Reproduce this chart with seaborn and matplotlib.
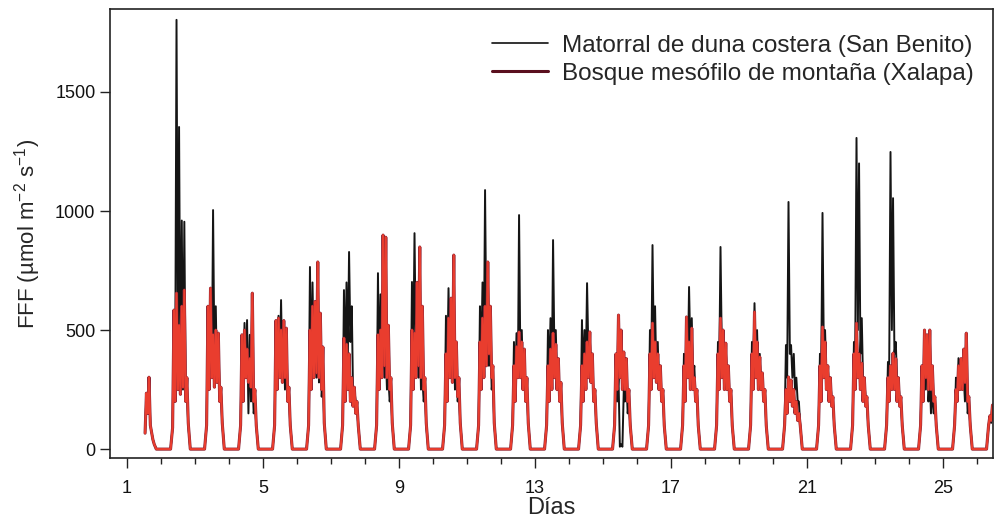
import numpy as np
import pandas as pd
import matplotlib
matplotlib.use('Agg')
import matplotlib.pyplot as plt
import matplotlib.patheffects as pe
import seaborn as sns
from matplotlib.lines import Line2D
from matplotlib.ticker import MultipleLocator

nan = np.nan

# day number of each daylight period (data starts mid day 1)
days = list(range(1, 27))
noon = 0.57
# sampling times inside each day, relative to solar noon (first/last are night zeros)
sample_offsets = [-0.29, -0.23, -0.19, -0.155, -0.115, -0.075, -0.04, 0.0,
                  0.04, 0.075, 0.115, 0.155, 0.19, 0.23, 0.29]

# FFF readings (umol m-2 s-1) during daylight, San Benito
black_vals = [
    [nan, nan, nan, nan, nan, 67, 230, 150, 290, 100, 67, 40, 20],
    [90, 560, 250, 1803, 400, 1353, 300, 960, 250, 955, 200, 250, 100],
    [100, 560, 280, 640, 330, 1004, 374, 600, 300, 480, 200, 250, 110],
    [100, 470, 220, 530, 300, 542, 150, 480, 200, 300, 150, 200, 100],
    [100, 500, 250, 560, 350, 626, 300, 500, 250, 480, 200, 250, 100],
    [100, 765, 300, 700, 350, 560, 300, 740, 280, 500, 220, 300, 110],
    [100, 668, 300, 700, 400, 828, 450, 600, 256, 250, 200, 180, 100],
    [100, 739, 300, 650, 350, 500, 300, 400, 250, 300, 200, 250, 110],
    [100, 702, 350, 907, 400, 650, 300, 500, 250, 300, 200, 250, 100],
    [100, 560, 300, 676, 350, 600, 300, 500, 250, 350, 200, 250, 110],
    [100, 600, 350, 700, 400, 1088, 450, 700, 350, 500, 250, 300, 110],
    [100, 450, 250, 487, 300, 983, 350, 500, 300, 400, 200, 250, 110],
    [100, 500, 300, 550, 300, 878, 400, 500, 300, 350, 200, 250, 110],
    [100, 542, 300, 500, 350, 697, 400, 480, 300, 350, 200, 250, 110],
    [100, 380, 200, 300, 10, 20, 10, 250, 200, 300, 150, 200, 100],
    [100, 500, 300, 857, 400, 600, 300, 450, 250, 300, 200, 250, 100],
    [100, 400, 250, 500, 350, 681, 400, 550, 300, 350, 200, 250, 100],
    [100, 450, 300, 849, 400, 470, 350, 420, 300, 300, 200, 250, 100],
    [100, 450, 300, 613, 350, 500, 300, 400, 250, 300, 200, 250, 100],
    [100, 437, 300, 1038, 400, 437, 300, 400, 250, 300, 200, 200, 100],
    [100, 400, 300, 992, 400, 500, 300, 350, 250, 300, 200, 200, 100],
    [100, 450, 350, 1307, 500, 1200, 400, 550, 300, 300, 200, 200, 100],
    [100, 366, 300, 1248, 500, 1054, 400, 450, 300, 300, 200, 200, 100],
    [100, 350, 200, 450, 250, 480, 200, 300, 150, 250, 150, 200, 100],
    [100, 300, 200, 382, 250, 350, 250, 300, 200, 300, 150, 200, 100],
    [100, 130, 110, 170, 140, 230, 180, 280, 200, 230, 180, 140, 100],
]

# FFF readings during daylight, Xalapa
red_vals = [
    [nan, nan, nan, nan, nan, 67, 235, 150, 302, 100, 67, 40, 20],
    [90, 584, 200, 655, 250, 520, 230, 600, 260, 668, 200, 300, 110],
    [100, 600, 250, 676, 300, 480, 260, 500, 280, 487, 200, 260, 110],
    [100, 480, 200, 500, 300, 420, 280, 380, 260, 655, 200, 250, 100],
    [100, 540, 250, 550, 300, 500, 280, 540, 300, 508, 200, 260, 100],
    [100, 500, 250, 600, 300, 620, 320, 786, 300, 571, 250, 429, 110],
    [100, 466, 200, 440, 250, 400, 200, 300, 180, 260, 150, 200, 100],
    [100, 480, 250, 500, 300, 899, 350, 890, 300, 520, 250, 300, 110],
    [100, 500, 250, 487, 300, 700, 350, 849, 300, 600, 250, 300, 110],
    [100, 400, 200, 550, 300, 634, 280, 815, 300, 450, 220, 300, 110],
    [100, 450, 250, 550, 300, 600, 350, 786, 400, 600, 300, 350, 110],
    [100, 350, 200, 430, 300, 492, 300, 450, 250, 420, 200, 300, 110],
    [100, 350, 200, 420, 250, 487, 300, 440, 250, 380, 200, 280, 110],
    [100, 350, 200, 400, 250, 450, 300, 492, 280, 400, 200, 250, 110],
    [100, 400, 250, 563, 300, 500, 250, 408, 250, 380, 200, 250, 100],
    [100, 400, 250, 529, 300, 450, 280, 400, 250, 350, 200, 250, 100],
    [100, 350, 200, 555, 300, 450, 250, 508, 250, 300, 200, 250, 100],
    [100, 400, 250, 550, 300, 500, 250, 445, 250, 350, 200, 250, 100],
    [100, 400, 250, 576, 300, 450, 250, 387, 250, 320, 200, 250, 100],
    [100, 250, 150, 303, 200, 290, 180, 250, 150, 200, 120, 150, 100],
    [100, 350, 200, 513, 300, 450, 250, 350, 200, 300, 180, 220, 100],
    [100, 400, 250, 529, 300, 400, 250, 361, 200, 300, 180, 220, 100],
    [100, 300, 200, 350, 250, 403, 250, 380, 200, 300, 180, 220, 100],
    [100, 350, 200, 500, 300, 480, 250, 500, 250, 350, 200, 220, 100],
    [100, 250, 200, 350, 250, 380, 250, 420, 280, 487, 200, 220, 100],
    [100, 140, 120, 185, 150, 250, 200, 300, 200, 250, 200, 150, 100],
]

series_names = ['Matorral de duna costera (San Benito)',
                'Bosque mesófilo de montaña (Xalapa)']


def build(vals):
    t, v = [], []
    for d, day in zip(days, vals):
        c = d + noon
        row = [0] + day + [0]
        if np.isnan(day[0]):
            row[0] = nan
        for off, y in zip(sample_offsets, row):
            t.append(c + off)
            v.append(y)
    return pd.DataFrame({'dia': t, 'fff': v})


black_df = build(black_vals)
red_df = build(red_vals)

sns.set_style('ticks')
plt.rcParams['font.family'] = ['Liberation Sans', 'DejaVu Sans']
plt.rcParams['mathtext.default'] = 'regular'

fig = plt.figure(figsize=(9.95, 5.23), dpi=100)
ax = fig.add_axes([0.1106, 0.124, 0.8874, 0.859])

sns.lineplot(data=black_df, x='dia', y='fff', color='#151515', lw=1.4,
             ax=ax, estimator=None, sort=False)
sns.lineplot(data=red_df, x='dia', y='fff', color='#e93d2e', lw=1.5,
             ax=ax, estimator=None, sort=False,
             path_effects=[pe.Stroke(linewidth=2.2, foreground='#8a2436'),
                           pe.Normal()])

ax.set_xlim(0.5, 26.47)
ax.set_ylim(-38, 1849)
ax.set_xticks([1, 5, 9, 13, 17, 21, 25])
ax.xaxis.set_minor_locator(MultipleLocator(1))
ax.set_yticks([0, 500, 1000, 1500])
ax.tick_params(axis='both', which='major', direction='out', length=7, width=1,
               color='#222222', labelsize=13, labelcolor='#111111')
ax.tick_params(axis='x', which='minor', direction='out', length=4, width=1,
               color='#222222')
ax.tick_params(axis='x', which='major', pad=9)
ax.set_xlabel('Días', fontsize=17, labelpad=0)
ax.set_ylabel('FFF (µmol m$^{-2}$ s$^{-1}$)', fontsize=16, labelpad=9)
for s in ax.spines.values():
    s.set_visible(True)
    s.set_linewidth(1.2)
    s.set_color('#222222')

handles = [Line2D([], [], color='#111111', lw=1.2),
           Line2D([], [], color='#5a0f1e', lw=2.2)]
ax.legend(handles, series_names, loc='upper right', frameon=False,
          fontsize=17.5, handlelength=2.3, handletextpad=0.6, labelspacing=0.25,
          bbox_to_anchor=(0.995, 0.975), borderaxespad=0.2)

fig.savefig('out.png', dpi=100)
